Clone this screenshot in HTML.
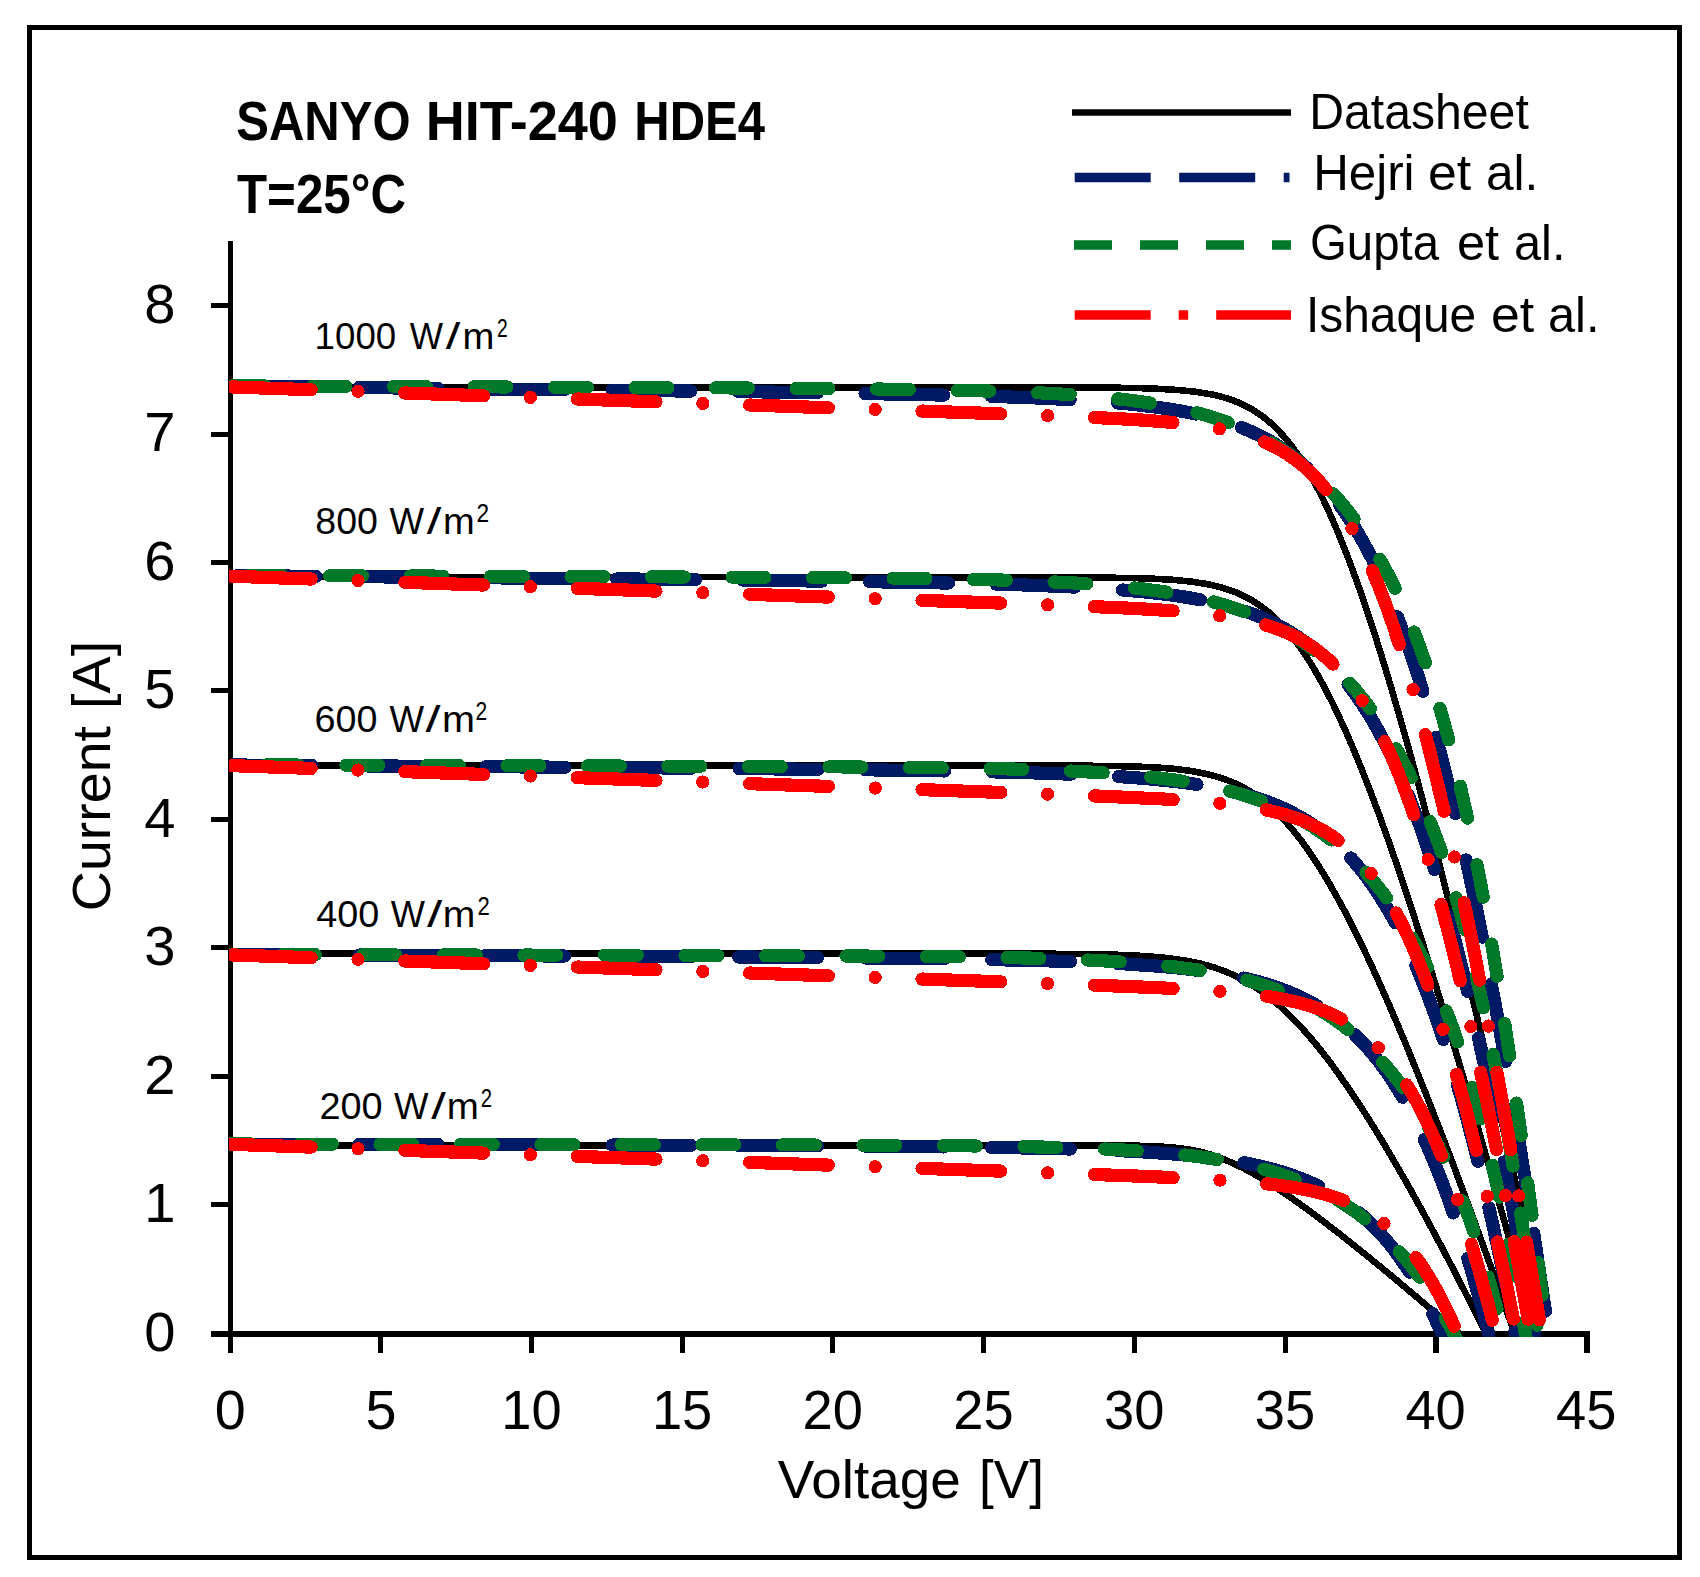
<!DOCTYPE html>
<html lang="en"><head><meta charset="utf-8"><title>SANYO HIT-240 HDE4 I-V curves</title>
<style>html,body{margin:0;padding:0;background:#fff}svg{display:block}text{font-family:"Liberation Sans", sans-serif;fill:#000}</style>
</head><body>
<svg width="1700" height="1577" viewBox="0 0 1700 1577">
<rect x="0" y="0" width="1700" height="1577" fill="#fff"/>
<rect x="29.5" y="27.5" width="1650" height="1530" fill="none" stroke="#000" stroke-width="5" shape-rendering="crispEdges"/>
<g fill="#000" shape-rendering="crispEdges">
<rect x="228" y="241" width="5" height="1112"/>
<rect x="211" y="1331" width="1379" height="6"/>
<rect x="211" y="1202" width="18" height="5"/>
<rect x="211" y="1074" width="18" height="5"/>
<rect x="211" y="945" width="18" height="5"/>
<rect x="211" y="817" width="18" height="5"/>
<rect x="211" y="688" width="18" height="5"/>
<rect x="211" y="560" width="18" height="5"/>
<rect x="211" y="432" width="18" height="5"/>
<rect x="211" y="303" width="18" height="5"/>
<rect x="378" y="1336" width="5" height="17"/>
<rect x="529" y="1336" width="5" height="17"/>
<rect x="680" y="1336" width="5" height="17"/>
<rect x="830" y="1336" width="5" height="17"/>
<rect x="981" y="1336" width="5" height="17"/>
<rect x="1132" y="1336" width="5" height="17"/>
<rect x="1283" y="1336" width="5" height="17"/>
<rect x="1433" y="1336" width="6" height="17"/>
<rect x="1584" y="1336" width="6" height="17"/>
</g>
<defs><clipPath id="plot"><rect x="229" y="230" width="1400" height="1107.0"/></clipPath></defs>
<g clip-path="url(#plot)" fill="none" stroke-linejoin="round" shape-rendering="crispEdges">
<g stroke="#000" stroke-width="6.6" stroke-linecap="butt">
<path d="M230.5 1145.3 L1105.2 1145.4 L1135.7 1145.7 L1156.9 1146.3 L1173.8 1147.5 L1187.8 1149.3 L1199.9 1151.7 L1210.9 1154.6 L1222.3 1158.6 L1234.4 1163.8 L1245.7 1169.4 L1258.9 1176.8 L1272.5 1185.3 L1288.6 1196.0 L1305.0 1207.7 L1324.3 1222.1 L1343.6 1237.0 L1365.9 1254.9 L1391.9 1276.2 L1416.8 1297.2 L1445.2 1321.5 L1474.7 1347.0"/>
<path d="M230.5 953.5 L967.7 953.5 L1039.5 953.7 L1084.4 954.0 L1109.3 954.5 L1129.5 955.2 L1146.8 956.2 L1162.4 957.5 L1176.4 959.2 L1189.3 961.3 L1201.2 963.8 L1212.7 967.0 L1221.1 969.9 L1229.0 973.0 L1236.4 976.4 L1244.0 980.3 L1251.1 984.4 L1258.4 989.2 L1266.0 994.7 L1273.1 1000.3 L1280.5 1006.6 L1287.2 1012.9 L1294.2 1019.9 L1301.6 1027.7 L1309.3 1036.4 L1316.3 1044.7 L1324.8 1055.4 L1332.5 1065.6 L1340.6 1076.9 L1349.2 1089.2 L1358.2 1102.8 L1366.2 1115.1 L1376.3 1131.3 L1385.2 1146.0 L1404.6 1179.2 L1423.9 1213.9 L1445.4 1254.0 L1469.3 1300.3 L1492.9 1347.0"/>
<path d="M230.5 765.4 L1001.0 765.4 L1071.0 765.6 L1113.4 766.0 L1137.1 766.6 L1156.7 767.5 L1173.4 768.8 L1187.8 770.5 L1201.1 772.8 L1213.4 775.7 L1224.7 779.2 L1235.0 783.3 L1242.7 787.1 L1250.7 791.7 L1258.2 796.8 L1265.2 802.1 L1272.4 808.3 L1279.1 814.8 L1286.1 822.2 L1293.4 830.7 L1301.1 840.4 L1308.2 850.2 L1315.6 861.2 L1322.3 871.8 L1329.3 883.5 L1336.7 896.6 L1344.6 911.0 L1352.9 927.1 L1361.7 944.9 L1369.5 961.3 L1379.4 982.9 L1388.2 1002.8 L1397.5 1024.4 L1407.4 1048.0 L1426.8 1096.1 L1448.6 1152.3 L1470.3 1210.3 L1494.6 1276.9 L1519.4 1347.0"/>
<path d="M230.5 577.0 L1020.3 577.3 L1089.8 577.5 L1131.5 578.0 L1155.3 578.8 L1174.2 579.9 L1190.9 581.6 L1205.3 583.8 L1212.2 585.2 L1218.6 586.7 L1224.4 588.4 L1230.3 590.3 L1236.2 592.5 L1241.6 594.9 L1247.0 597.6 L1251.9 600.3 L1259.6 605.3 L1267.6 611.3 L1275.1 618.0 L1282.2 625.0 L1289.5 633.4 L1296.2 642.0 L1303.3 651.9 L1310.7 663.3 L1317.5 674.8 L1324.7 687.7 L1332.2 702.4 L1339.0 716.6 L1346.2 732.3 L1353.7 749.8 L1361.7 769.3 L1370.2 791.0 L1379.3 815.2 L1387.3 837.4 L1395.8 861.7 L1404.8 888.2 L1414.3 917.2 L1424.5 949.0 L1444.5 1013.7 L1467.1 1089.8 L1489.6 1168.5 L1514.9 1259.2 L1538.7 1347.0"/>
<path d="M230.5 387.3 L1025.8 387.3 L1095.3 387.5 L1136.5 388.0 L1160.2 388.9 L1179.1 390.1 L1195.7 391.8 L1210.0 394.1 L1216.9 395.6 L1223.3 397.3 L1229.1 399.1 L1234.9 401.1 L1240.1 403.3 L1245.4 405.8 L1250.8 408.6 L1255.5 411.5 L1263.1 416.8 L1270.3 422.7 L1277.6 429.6 L1284.4 437.1 L1291.5 445.8 L1298.0 454.9 L1304.7 465.4 L1311.8 477.5 L1318.3 489.6 L1325.1 503.3 L1332.2 518.9 L1338.6 533.9 L1345.3 550.7 L1352.4 569.3 L1359.9 590.0 L1367.8 613.2 L1376.2 638.9 L1383.6 662.6 L1391.4 688.5 L1399.7 716.9 L1408.5 747.9 L1417.8 781.9 L1436.1 851.2 L1456.6 932.8 L1477.1 1017.2 L1497.1 1101.8 L1520.8 1205.5 L1526.3 1205.5"/>
</g>
<g stroke="#001a66" stroke-width="13.2" stroke-linecap="round" stroke-dasharray="78.80 47.70">
<path d="M222.5 1144.1 L230.5 1144.1 L577.7 1144.9 L773.8 1145.6 L909.5 1146.5 L1015.1 1147.8 L1060.4 1148.7 L1090.7 1149.6 L1122.1 1150.8 L1150.0 1152.3 L1174.9 1154.1 L1196.8 1156.1 L1216.9 1158.4 L1235.8 1161.3 L1246.2 1163.1 L1256.6 1165.3 L1265.8 1167.4 L1275.1 1169.8 L1283.7 1172.4 L1292.4 1175.3 L1300.5 1178.3 L1308.0 1181.3 L1315.5 1184.7 L1323.0 1188.5 L1329.9 1192.3 L1336.9 1196.5 L1343.9 1201.1 L1350.3 1205.8 L1356.7 1210.8 L1362.5 1215.7 L1369.0 1221.7 L1374.9 1227.6 L1380.8 1233.9 L1386.1 1240.0 L1392.2 1247.4 L1397.5 1254.5 L1402.9 1262.2 L1408.4 1270.4 L1413.9 1279.2 L1418.8 1287.5 L1428.6 1305.8 L1433.7 1315.8 L1438.7 1326.6 L1448.5 1349.0" stroke-dashoffset="116.4"/>
<path d="M222.5 954.5 L230.5 954.5 L608.4 956.2 L804.5 957.4 L940.3 958.8 L1000.6 959.8 L1045.9 960.8 L1091.3 962.3 L1124.6 963.9 L1156.1 966.0 L1183.5 968.5 L1208.5 971.7 L1219.5 973.4 L1230.5 975.3 L1240.3 977.3 L1250.2 979.6 L1259.4 982.0 L1268.7 984.7 L1279.2 988.2 L1289.1 992.0 L1298.5 996.1 L1307.9 1000.7 L1316.8 1005.6 L1325.6 1011.2 L1333.9 1017.0 L1341.6 1022.9 L1349.4 1029.5 L1356.5 1036.3 L1363.8 1043.7 L1371.0 1051.9 L1378.4 1061.0 L1385.1 1070.0 L1391.9 1080.0 L1398.1 1089.7 L1405.0 1101.5 L1411.4 1113.1 L1417.8 1125.7 L1423.5 1137.8 L1429.4 1150.8 L1435.3 1164.9 L1441.3 1180.0 L1447.4 1196.3 L1453.5 1213.8 L1459.0 1230.2 L1464.6 1247.8 L1470.3 1266.6 L1481.1 1304.8 L1487.1 1327.4 L1492.5 1349.0" stroke-dashoffset="116.2"/>
<path d="M222.5 765.0 L230.5 765.0 L639.1 767.7 L850.3 769.6 L925.7 770.6 L986.1 771.7 L1031.4 772.8 L1076.8 774.4 L1114.9 776.3 L1147.7 778.7 L1176.3 781.6 L1189.7 783.3 L1202.0 785.2 L1213.6 787.2 L1224.6 789.4 L1235.1 791.8 L1245.5 794.6 L1255.4 797.5 L1264.7 800.7 L1273.4 804.0 L1282.2 807.7 L1292.8 812.9 L1302.9 818.5 L1312.4 824.5 L1322.0 831.4 L1331.0 838.7 L1339.5 846.3 L1348.0 854.9 L1355.9 863.7 L1363.9 873.6 L1371.3 883.6 L1378.8 894.7 L1386.4 907.0 L1393.4 919.2 L1400.5 932.6 L1407.6 947.4 L1414.2 961.8 L1421.6 979.4 L1428.3 996.7 L1435.2 1015.4 L1441.4 1033.5 L1447.8 1052.9 L1454.2 1073.8 L1460.8 1096.4 L1467.5 1120.7 L1474.3 1147.0 L1480.5 1171.6 L1486.7 1197.9 L1493.1 1225.9 L1505.4 1283.2 L1512.2 1317.1 L1518.4 1349.0" stroke-dashoffset="115.8"/>
<path d="M222.5 575.6 L230.5 575.6 L639.6 579.1 L850.8 581.4 L926.3 582.6 L986.7 583.9 L1032.0 585.2 L1080.4 587.3 L1119.3 589.7 L1136.9 591.2 L1152.7 592.8 L1167.3 594.5 L1181.4 596.5 L1194.8 598.7 L1207.1 601.1 L1218.7 603.7 L1229.8 606.6 L1240.3 609.7 L1250.9 613.3 L1260.8 617.2 L1270.2 621.3 L1279.0 625.7 L1287.8 630.6 L1298.0 637.0 L1308.2 644.4 L1317.9 652.3 L1327.6 661.4 L1336.8 671.0 L1345.4 681.1 L1354.2 692.4 L1362.3 704.2 L1370.6 717.2 L1378.2 730.5 L1386.0 745.3 L1393.9 761.6 L1401.2 777.9 L1408.6 795.8 L1416.2 815.4 L1423.1 834.7 L1430.1 855.7 L1437.3 878.5 L1444.7 903.3 L1451.4 927.2 L1458.2 952.9 L1465.1 980.7 L1472.3 1010.6 L1479.6 1042.9 L1487.1 1077.6 L1493.9 1110.3 L1500.8 1145.1 L1507.9 1182.4 L1515.2 1222.2 L1522.7 1264.7 L1536.8 1349.0" stroke-dashoffset="111.8"/>
<path d="M222.5 386.2 L230.5 386.2 L640.1 390.5 L760.9 391.9 L851.4 393.3 L926.9 394.7 L987.3 396.2 L1032.7 397.8 L1062.9 399.2 L1082.9 400.3 L1102.9 401.7 L1121.2 403.2 L1138.2 405.0 L1154.1 406.9 L1168.7 409.0 L1182.8 411.4 L1195.7 414.0 L1208.0 416.9 L1219.7 420.1 L1230.8 423.7 L1241.4 427.5 L1251.3 431.7 L1260.7 436.1 L1270.2 441.2 L1279.1 446.5 L1288.0 452.6 L1298.2 460.4 L1308.6 469.5 L1318.4 479.2 L1327.7 489.6 L1337.0 501.3 L1345.8 513.6 L1354.7 527.5 L1363.1 541.8 L1371.6 557.8 L1379.5 574.2 L1387.5 592.2 L1395.7 612.2 L1403.2 632.2 L1411.0 654.1 L1418.9 678.2 L1426.1 701.9 L1433.6 727.7 L1441.1 755.7 L1448.9 786.3 L1456.0 815.6 L1463.3 847.3 L1470.8 881.4 L1478.4 918.2 L1486.3 957.9 L1494.5 1000.7 L1501.8 1040.8 L1509.3 1083.8 L1517.1 1129.7 L1525.1 1178.7 L1533.4 1231.0 L1548.8 1333.6" stroke-dashoffset="116.4"/>
</g>
<g stroke="#00782a" stroke-width="13.2" stroke-linecap="round" stroke-dasharray="32.80 47.70">
<path d="M222.5 1144.0 L230.5 1144.0 L817.6 1144.9 L938.3 1145.5 L1013.7 1146.4 L1074.2 1147.8 L1104.4 1149.0 L1135.3 1150.7 L1159.0 1152.5 L1180.3 1154.5 L1200.4 1156.9 L1219.4 1159.8 L1230.4 1161.7 L1241.5 1163.9 L1251.9 1166.3 L1262.4 1168.9 L1272.3 1171.7 L1281.6 1174.6 L1290.9 1177.9 L1299.7 1181.2 L1308.4 1184.9 L1316.6 1188.7 L1324.8 1192.8 L1333.0 1197.3 L1340.6 1201.8 L1348.3 1206.8 L1356.0 1212.1 L1363.1 1217.5 L1370.2 1223.3 L1377.4 1229.5 L1384.6 1236.3 L1391.2 1242.9 L1397.8 1250.0 L1404.5 1257.7 L1410.6 1265.1 L1416.7 1273.1 L1422.8 1281.6 L1429.0 1290.7 L1434.6 1299.4 L1440.2 1308.7 L1445.8 1318.7 L1450.8 1328.0 L1455.9 1337.9 L1461.3 1349.0" stroke-dashoffset="3.5"/>
<path d="M222.5 954.5 L230.5 954.5 L681.1 955.4 L847.0 956.0 L907.3 956.3 L967.7 956.9 L1012.9 957.7 L1043.2 958.4 L1088.5 960.1 L1115.2 961.5 L1145.0 963.8 L1171.7 966.5 L1196.2 969.8 L1207.8 971.7 L1218.8 973.7 L1229.3 975.9 L1239.8 978.4 L1249.6 981.0 L1259.5 983.9 L1271.3 987.8 L1283.2 992.2 L1293.8 996.7 L1304.5 1001.8 L1314.6 1007.1 L1324.8 1013.1 L1334.4 1019.3 L1344.0 1026.3 L1353.0 1033.5 L1362.2 1041.4 L1370.7 1049.5 L1379.3 1058.4 L1387.3 1067.4 L1395.4 1077.3 L1402.8 1087.2 L1410.4 1097.9 L1418.0 1109.7 L1425.0 1121.3 L1432.1 1134.0 L1438.6 1146.4 L1445.2 1159.8 L1451.1 1172.8 L1457.1 1186.9 L1463.2 1202.2 L1469.4 1218.9 L1475.0 1234.9 L1480.7 1252.2 L1485.7 1268.4 L1491.6 1289.0 L1496.9 1308.3 L1502.3 1329.3 L1507.0 1349.0" stroke-dashoffset="20.5"/>
<path d="M222.5 764.9 L230.5 764.9 L695.3 766.2 L861.2 767.0 L921.6 767.5 L981.9 768.3 L1027.3 769.4 L1057.5 770.4 L1096.9 772.4 L1114.5 773.6 L1131.5 775.0 L1147.3 776.6 L1162.0 778.3 L1176.0 780.2 L1189.5 782.3 L1202.3 784.7 L1214.6 787.3 L1226.3 790.1 L1237.5 793.1 L1248.0 796.4 L1258.6 800.0 L1268.5 803.8 L1278.6 808.1 L1290.5 813.9 L1302.5 820.4 L1314.0 827.5 L1324.9 835.1 L1335.2 843.0 L1345.6 852.0 L1355.5 861.4 L1364.7 871.1 L1374.1 881.8 L1382.9 892.9 L1391.8 905.1 L1400.0 917.6 L1408.4 931.3 L1416.3 945.2 L1424.2 960.5 L1431.5 975.8 L1438.2 990.9 L1445.0 1007.5 L1452.0 1025.8 L1458.3 1043.7 L1464.8 1063.5 L1470.7 1082.5 L1476.6 1103.3 L1482.8 1126.3 L1489.2 1151.9 L1494.8 1176.1 L1500.7 1202.7 L1505.8 1227.1 L1511.0 1253.7 L1516.5 1282.8 L1522.2 1314.7 L1528.0 1349.0" stroke-dashoffset="37.5"/>
<path d="M222.5 575.4 L230.5 575.4 L694.5 577.0 L875.5 578.0 L935.9 578.7 L996.3 579.9 L1041.6 581.4 L1071.9 582.8 L1091.9 584.1 L1110.1 585.5 L1127.2 587.1 L1143.6 589.0 L1158.9 591.0 L1173.0 593.2 L1187.1 595.8 L1200.0 598.6 L1212.3 601.6 L1224.7 605.1 L1235.8 608.7 L1247.0 612.7 L1257.7 617.0 L1268.3 621.8 L1278.4 626.9 L1287.9 632.3 L1300.0 639.9 L1311.6 648.1 L1322.6 656.8 L1333.7 666.7 L1344.2 677.2 L1354.2 688.2 L1364.3 700.5 L1373.8 713.3 L1382.8 726.5 L1391.9 741.3 L1400.4 756.3 L1409.0 773.1 L1417.1 790.2 L1424.6 807.5 L1432.2 826.6 L1439.3 845.7 L1446.5 867.0 L1453.1 888.0 L1459.9 911.4 L1466.0 934.1 L1472.4 959.2 L1478.9 987.3 L1484.8 1013.9 L1490.9 1043.4 L1497.3 1076.2 L1502.8 1106.4 L1508.6 1139.5 L1514.7 1176.0 L1521.1 1216.2 L1527.9 1260.8 L1540.5 1349.0" stroke-dashoffset="53.9"/>
<path d="M222.5 385.8 L230.5 385.8 L693.7 387.7 L799.3 388.3 L874.7 389.0 L935.1 389.8 L995.5 391.2 L1040.8 392.9 L1069.3 394.5 L1090.0 396.1 L1108.8 397.8 L1126.5 399.8 L1143.0 402.0 L1158.9 404.5 L1173.6 407.3 L1187.8 410.5 L1200.7 413.8 L1213.7 417.6 L1226.2 421.9 L1238.0 426.4 L1249.3 431.4 L1260.0 436.6 L1270.8 442.6 L1281.0 448.8 L1291.2 455.8 L1303.5 465.2 L1315.2 475.3 L1326.4 486.2 L1337.0 497.7 L1347.1 509.9 L1357.3 523.4 L1366.9 537.6 L1376.7 553.5 L1385.9 570.1 L1394.6 587.2 L1402.7 604.6 L1411.0 624.1 L1418.7 643.9 L1426.6 666.0 L1433.9 688.4 L1440.6 710.5 L1447.5 735.2 L1453.7 759.3 L1460.2 786.0 L1467.0 815.9 L1474.0 849.4 L1480.3 881.6 L1487.0 917.5 L1492.8 950.6 L1498.9 987.1 L1505.3 1027.4 L1512.0 1072.0 L1519.2 1121.4 L1526.8 1176.5 L1533.3 1225.0 L1547.2 1333.6" stroke-dashoffset="70.4"/>
</g>
<g stroke="#ff0000" stroke-width="13.2" stroke-linecap="round" stroke-dasharray="78.80 46.85 0.01 46.85">
<path d="M222.5 1144.3 L230.5 1144.3 L1011.6 1171.5 L1148.4 1176.5 L1200.6 1178.9 L1238.9 1181.3 L1254.7 1182.6 L1269.4 1184.1 L1282.2 1185.7 L1294.5 1187.5 L1310.6 1190.6 L1325.4 1194.3 L1338.6 1198.5 L1344.9 1200.8 L1351.2 1203.5 L1357.0 1206.2 L1362.7 1209.3 L1368.5 1212.6 L1373.7 1216.0 L1379.0 1219.7 L1384.2 1223.7 L1389.6 1228.2 L1394.3 1232.6 L1399.0 1237.3 L1403.8 1242.4 L1408.7 1248.1 L1412.9 1253.3 L1417.8 1260.0 L1422.1 1266.1 L1430.9 1280.0 L1439.2 1294.8 L1447.7 1311.8 L1455.7 1329.5 L1463.7 1349.0" stroke-dashoffset="162.6"/>
<path d="M222.5 954.9 L230.5 954.9 L1020.8 982.5 L1108.0 985.7 L1162.0 987.9 L1191.1 989.5 L1214.8 991.0 L1235.6 992.7 L1253.3 994.6 L1269.2 996.7 L1284.0 999.3 L1297.0 1002.2 L1309.4 1005.7 L1318.2 1008.6 L1326.4 1011.8 L1334.0 1015.2 L1341.7 1019.2 L1348.8 1023.4 L1355.3 1027.7 L1361.9 1032.6 L1368.6 1038.1 L1374.6 1043.8 L1380.7 1050.1 L1387.0 1057.1 L1392.6 1064.1 L1398.2 1071.9 L1404.0 1080.5 L1409.9 1090.0 L1415.1 1099.1 L1420.5 1109.1 L1425.9 1120.0 L1431.5 1132.0 L1436.3 1143.2 L1442.1 1157.3 L1447.2 1170.5 L1452.4 1184.8 L1457.7 1200.2 L1467.8 1231.7 L1478.5 1268.1 L1488.7 1305.9 L1499.5 1349.0" stroke-dashoffset="162.6"/>
<path d="M222.5 765.6 L230.5 765.6 L1014.9 792.9 L1106.4 796.4 L1161.6 798.9 L1190.8 800.7 L1214.6 802.6 L1235.3 804.9 L1253.1 807.5 L1269.2 810.5 L1284.1 814.3 L1297.2 818.5 L1303.5 820.9 L1309.8 823.6 L1318.1 827.7 L1326.5 832.5 L1334.3 837.6 L1342.2 843.6 L1349.6 849.9 L1356.3 856.4 L1363.2 863.8 L1370.2 872.2 L1376.5 880.8 L1383.0 890.4 L1389.6 901.1 L1395.6 911.8 L1401.8 923.6 L1408.1 936.7 L1414.5 951.2 L1420.3 965.2 L1426.2 980.4 L1432.3 997.2 L1438.5 1015.5 L1444.0 1032.6 L1450.6 1054.3 L1456.5 1074.5 L1462.5 1096.3 L1468.8 1119.9 L1480.7 1168.2 L1493.5 1224.0 L1506.0 1282.0 L1519.5 1349.0" stroke-dashoffset="162.6"/>
<path d="M222.5 576.2 L230.5 576.2 L1009.1 603.4 L1099.4 606.9 L1129.7 608.2 L1154.6 609.6 L1183.8 611.7 L1207.6 614.0 L1228.4 616.8 L1237.7 618.3 L1246.3 620.1 L1254.4 621.9 L1262.4 624.0 L1269.9 626.3 L1277.5 628.9 L1284.4 631.6 L1290.8 634.4 L1297.1 637.6 L1303.6 641.2 L1312.0 646.6 L1320.6 653.0 L1328.6 659.8 L1336.7 667.7 L1344.3 676.2 L1351.3 684.9 L1358.4 694.8 L1365.7 706.1 L1372.4 717.6 L1379.2 730.4 L1386.3 744.9 L1392.7 759.2 L1399.3 775.1 L1406.0 792.7 L1413.0 812.2 L1419.3 831.0 L1425.8 851.6 L1432.5 874.1 L1439.5 898.8 L1445.6 921.8 L1453.1 950.9 L1459.7 978.2 L1466.6 1007.6 L1473.7 1039.4 L1487.6 1104.5 L1502.5 1179.6 L1517.2 1257.9 L1533.4 1349.0" stroke-dashoffset="162.6"/>
<path d="M222.5 386.9 L230.5 386.9 L1003.2 413.9 L1090.5 417.3 L1120.2 418.8 L1144.5 420.2 L1173.2 422.5 L1197.0 425.2 L1208.0 426.8 L1217.9 428.5 L1227.1 430.4 L1235.8 432.4 L1243.9 434.7 L1252.1 437.2 L1259.6 440.0 L1267.2 443.2 L1274.2 446.5 L1280.6 450.0 L1287.1 453.9 L1293.6 458.4 L1302.2 465.0 L1310.9 472.9 L1319.1 481.3 L1327.4 491.2 L1335.2 501.6 L1342.5 512.5 L1349.9 524.8 L1357.5 538.9 L1364.5 553.1 L1371.7 569.1 L1379.1 587.1 L1385.9 604.9 L1392.9 624.7 L1400.1 646.6 L1407.7 670.9 L1414.5 694.3 L1421.5 719.9 L1428.9 748.0 L1436.5 778.8 L1443.3 807.4 L1451.5 843.8 L1458.9 877.7 L1466.6 914.4 L1474.6 954.0 L1490.2 1035.2 L1507.2 1128.9 L1524.0 1226.5 L1541.7 1333.6" stroke-dashoffset="162.6"/>
</g>
</g>
<text x="175.4" y="1350.8" font-size="55.2" text-anchor="end" textLength="31.2" lengthAdjust="spacingAndGlyphs">0</text>
<text x="175.4" y="1222.3" font-size="55.2" text-anchor="end" textLength="31.2" lengthAdjust="spacingAndGlyphs">1</text>
<text x="175.4" y="1093.8" font-size="55.2" text-anchor="end" textLength="31.2" lengthAdjust="spacingAndGlyphs">2</text>
<text x="175.4" y="965.3" font-size="55.2" text-anchor="end" textLength="31.2" lengthAdjust="spacingAndGlyphs">3</text>
<text x="175.4" y="836.8" font-size="55.2" text-anchor="end" textLength="31.2" lengthAdjust="spacingAndGlyphs">4</text>
<text x="175.4" y="708.3" font-size="55.2" text-anchor="end" textLength="31.2" lengthAdjust="spacingAndGlyphs">5</text>
<text x="175.4" y="579.8" font-size="55.2" text-anchor="end" textLength="31.2" lengthAdjust="spacingAndGlyphs">6</text>
<text x="175.4" y="451.3" font-size="55.2" text-anchor="end" textLength="31.2" lengthAdjust="spacingAndGlyphs">7</text>
<text x="175.4" y="322.8" font-size="55.2" text-anchor="end" textLength="31.2" lengthAdjust="spacingAndGlyphs">8</text>
<text x="230.3" y="1428.8" font-size="55.2" text-anchor="middle" textLength="31.0" lengthAdjust="spacingAndGlyphs">0</text>
<text x="381.0" y="1428.8" font-size="55.2" text-anchor="middle" textLength="31.0" lengthAdjust="spacingAndGlyphs">5</text>
<text x="531.4" y="1428.8" font-size="55.2" text-anchor="middle" textLength="60.4" lengthAdjust="spacingAndGlyphs">10</text>
<text x="682.1" y="1428.8" font-size="55.2" text-anchor="middle" textLength="60.4" lengthAdjust="spacingAndGlyphs">15</text>
<text x="832.8" y="1428.8" font-size="55.2" text-anchor="middle" textLength="60.4" lengthAdjust="spacingAndGlyphs">20</text>
<text x="983.5" y="1428.8" font-size="55.2" text-anchor="middle" textLength="60.4" lengthAdjust="spacingAndGlyphs">25</text>
<text x="1134.2" y="1428.8" font-size="55.2" text-anchor="middle" textLength="60.4" lengthAdjust="spacingAndGlyphs">30</text>
<text x="1284.9" y="1428.8" font-size="55.2" text-anchor="middle" textLength="60.4" lengthAdjust="spacingAndGlyphs">35</text>
<text x="1435.6" y="1428.8" font-size="55.2" text-anchor="middle" textLength="60.4" lengthAdjust="spacingAndGlyphs">40</text>
<text x="1586.3" y="1428.8" font-size="55.2" text-anchor="middle" textLength="60.4" lengthAdjust="spacingAndGlyphs">45</text>
<text font-size="53.6"><tspan x="777.7" y="1497.9" textLength="183.0" lengthAdjust="spacingAndGlyphs">Voltage</tspan> <tspan x="979.0" y="1497.9" textLength="64.9" lengthAdjust="spacingAndGlyphs">[V]</tspan></text>
<text transform="translate(109.8 0) rotate(-90)" font-size="53.6"><tspan x="-911.2" y="0" textLength="185.2" lengthAdjust="spacingAndGlyphs">Current</tspan> <tspan x="-709.0" y="0" textLength="68.2" lengthAdjust="spacingAndGlyphs">[A]</tspan></text>
<text font-size="54.8" font-weight="bold"><tspan x="236.2" y="140.0" textLength="174.4" lengthAdjust="spacingAndGlyphs">SANYO</tspan> <tspan x="425.7" y="140.0" textLength="192.2" lengthAdjust="spacingAndGlyphs">HIT-240</tspan> <tspan x="634.3" y="140.0" textLength="130.8" lengthAdjust="spacingAndGlyphs">HDE4</tspan></text>
<text font-size="54.8" font-weight="bold"><tspan x="237.0" y="213.0" textLength="169.0" lengthAdjust="spacingAndGlyphs">T=25°C</tspan></text>
<text font-size="49.2"><tspan x="1309.2" y="129.0" textLength="219.6" lengthAdjust="spacingAndGlyphs">Datasheet</tspan></text>
<text font-size="49.2"><tspan x="1313.2" y="190.0" textLength="101.4" lengthAdjust="spacingAndGlyphs">Hejri</tspan> <tspan x="1428.0" y="190.0" textLength="43.1" lengthAdjust="spacingAndGlyphs">et</tspan> <tspan x="1486.0" y="190.0" textLength="52.4" lengthAdjust="spacingAndGlyphs">al.</tspan></text>
<text font-size="49.2"><tspan x="1310.0" y="259.6" textLength="129.0" lengthAdjust="spacingAndGlyphs">Gupta</tspan> <tspan x="1457.0" y="259.6" textLength="42.1" lengthAdjust="spacingAndGlyphs">et</tspan> <tspan x="1514.0" y="259.6" textLength="51.5" lengthAdjust="spacingAndGlyphs">al.</tspan></text>
<text font-size="49.2"><tspan x="1306.0" y="331.6" textLength="170.2" lengthAdjust="spacingAndGlyphs">Ishaque</tspan> <tspan x="1491.0" y="331.6" textLength="43.1" lengthAdjust="spacingAndGlyphs">et</tspan> <tspan x="1548.0" y="331.6" textLength="51.5" lengthAdjust="spacingAndGlyphs">al.</tspan></text>
<text font-size="37.7"><tspan x="314.6" y="348.7" textLength="81.6" lengthAdjust="spacingAndGlyphs">1000</tspan> <tspan x="409.8" y="348.7" textLength="33.3" lengthAdjust="spacingAndGlyphs">W</tspan><tspan x="445.8" y="348.7" textLength="14.6" lengthAdjust="spacingAndGlyphs">/</tspan><tspan x="462.5" y="348.7" textLength="31.9" lengthAdjust="spacingAndGlyphs">m</tspan><tspan x="497.0" y="337.0" textLength="10.7" lengthAdjust="spacingAndGlyphs" font-size="26.5">2</tspan></text>
<text font-size="37.7"><tspan x="315.3" y="533.8" textLength="62.6" lengthAdjust="spacingAndGlyphs">800</tspan> <tspan x="389.4" y="533.8" textLength="34.6" lengthAdjust="spacingAndGlyphs">W</tspan><tspan x="426.7" y="533.8" textLength="14.6" lengthAdjust="spacingAndGlyphs">/</tspan><tspan x="442.9" y="533.8" textLength="31.7" lengthAdjust="spacingAndGlyphs">m</tspan><tspan x="476.4" y="522.1" textLength="12.6" lengthAdjust="spacingAndGlyphs" font-size="26.5">2</tspan></text>
<text font-size="37.7"><tspan x="314.6" y="731.9" textLength="62.9" lengthAdjust="spacingAndGlyphs">600</tspan> <tspan x="389.4" y="731.9" textLength="34.6" lengthAdjust="spacingAndGlyphs">W</tspan><tspan x="425.4" y="731.9" textLength="15.1" lengthAdjust="spacingAndGlyphs">/</tspan><tspan x="442.1" y="731.9" textLength="33.0" lengthAdjust="spacingAndGlyphs">m</tspan><tspan x="475.4" y="720.2" textLength="11.7" lengthAdjust="spacingAndGlyphs" font-size="26.5">2</tspan></text>
<text font-size="37.7"><tspan x="316.3" y="926.9" textLength="63.0" lengthAdjust="spacingAndGlyphs">400</tspan> <tspan x="390.8" y="926.9" textLength="34.2" lengthAdjust="spacingAndGlyphs">W</tspan><tspan x="427.0" y="926.9" textLength="15.3" lengthAdjust="spacingAndGlyphs">/</tspan><tspan x="442.8" y="926.9" textLength="32.6" lengthAdjust="spacingAndGlyphs">m</tspan><tspan x="477.4" y="915.2" textLength="12.3" lengthAdjust="spacingAndGlyphs" font-size="26.5">2</tspan></text>
<text font-size="37.7"><tspan x="319.4" y="1118.8" textLength="63.2" lengthAdjust="spacingAndGlyphs">200</tspan> <tspan x="394.1" y="1118.8" textLength="34.5" lengthAdjust="spacingAndGlyphs">W</tspan><tspan x="431.2" y="1118.8" textLength="14.6" lengthAdjust="spacingAndGlyphs">/</tspan><tspan x="446.8" y="1118.8" textLength="32.1" lengthAdjust="spacingAndGlyphs">m</tspan><tspan x="480.8" y="1107.1" textLength="11.3" lengthAdjust="spacingAndGlyphs" font-size="26.5">2</tspan></text>
<path d="M1072 112.5 H1291" stroke="#000" stroke-width="6.5" fill="none"/>
<path d="M1074.7 177.5 H1289.5" stroke="#001a66" stroke-width="9.5" stroke-dasharray="76 28.5" fill="none"/>
<path d="M1074 245 H1291" stroke="#00782a" stroke-width="9.5" stroke-dasharray="38 28" fill="none"/>
<path d="M1074.7 315 H1291" stroke="#ff0000" stroke-width="9.5" stroke-dasharray="76 28 9.5 28" fill="none"/>
</svg></body></html>
